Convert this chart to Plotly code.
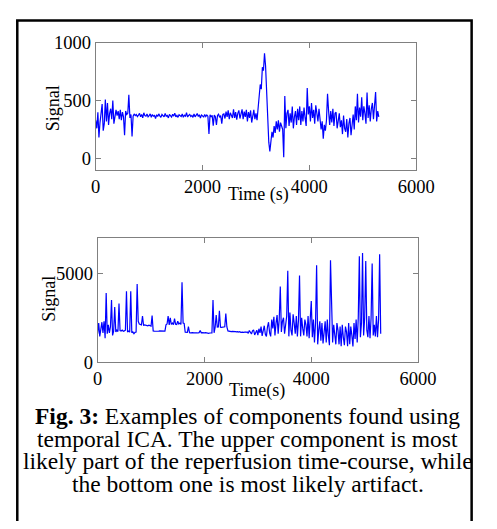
import plotly.graph_objects as go

# sampling step of both traces (s)
time_step = 20

# upper component, one value per time step
upper_signal = [
    330, 260, 400, 180, 310, 370, 470, 240, 300, 510,
    320, 480, 290, 390, 430, 340, 500, 300, 380, 420,
    370, 410, 340, 420, 330, 400, 360, 200, 410, 380,
    390, 550, 350, 380, 190, 365, 385, 370, 380, 362,
    375, 390, 360, 380, 350, 395, 370, 365, 385, 360,
    370, 385, 355, 380, 365, 372, 345, 378, 362, 385,
    368, 355, 380, 372, 360, 390, 364, 372, 350, 380,
    370, 358, 382, 366, 392, 360, 372, 355, 378, 368,
    362, 385, 356, 374, 365, 395, 358, 372, 380, 362,
    372, 355, 384, 360, 370, 388, 362, 378, 350, 375,
    368, 356, 380, 362, 376, 365, 210, 378, 358, 372,
    283, 375, 360, 290, 372, 382, 355, 370, 300, 380,
    385, 345, 405, 360, 415, 340, 395, 365, 350, 425,
    350, 400, 335, 390, 415, 345, 380, 425, 340, 405,
    360, 420, 320, 400, 350, 415, 310, 390, 420, 340,
    390, 330, 430, 470, 640, 600, 790, 760, 910, 800,
    560, 320, 140, 60, 170, 230, 180, 280, 220, 320,
    250, 330, 230, 310, 280, 250, 10, 540, 260, 390,
    420, 280, 390, 310, 450, 260, 360, 410, 290, 430,
    330, 450, 290, 410, 320, 440, 350, 280, 610, 380,
    450, 320, 480, 350, 420, 300, 460, 360, 320, 430,
    360, 250, 320, 170, 290, 240, 330, 560, 410, 290,
    410, 310, 430, 280, 390, 400, 260, 360, 390, 270,
    330, 210, 370, 260, 230, 340, 180, 300, 350, 200,
    290, 380, 250, 450, 330, 560, 310, 440, 360, 530,
    330, 450, 390, 300, 570, 350, 460, 320, 430, 480,
    340, 440, 575, 320, 410, 360,
]

# lower component (artifact)
lower_signal = [
    1600, 2200, 1450, 1900, 2250, 1650, 2300, 1350, 3900, 1600,
    2100, 1650, 2000, 3500, 1500, 1750, 3100, 1700, 1800, 1720,
    3300, 1780, 1750, 1800, 1740, 1760, 1800, 4000, 1700, 1750,
    1690, 4000, 1650, 1700, 1600, 1680, 1690, 4400, 2300, 2150,
    2120, 2100, 2600, 2080, 2100, 2070, 2060, 2050, 2080, 2030,
    2030, 2620, 1760, 1750, 1740, 1760, 1750, 1740, 1760, 1750,
    1750, 1740, 1730, 1750, 2100, 2150, 2600, 2100, 2500, 2120,
    2200, 2110, 2450, 2130, 2120, 2300, 2150, 2200, 2120, 4500,
    2200, 2180, 1680, 1660, 1670, 2000, 1660, 1650, 1670, 1660,
    1650, 1660, 1670, 1650, 1640, 1660, 1780, 1650, 1660, 1640,
    1650, 1660, 1640, 1650, 1620, 1640, 1630, 1650, 3500, 1650,
    1960, 2650, 1970, 1980, 2900, 1970, 1960, 1980, 1970, 1990,
    2740, 1980, 1760, 1740, 1750, 1720, 1730, 1740, 1710, 1720,
    1700, 1720, 1690, 1710, 1680, 1700, 1690, 1670, 1700, 1680,
    1700, 1620, 1780, 1680, 1580, 1760, 1820, 1530, 1720, 1800,
    1520, 1880, 1650, 2000, 1480, 1820, 2050, 1560, 1450, 1980,
    2250, 1650, 1450, 2400, 1900, 2550, 1500, 2200, 2650, 1600,
    2400, 4260, 1700, 2300, 2500, 1600, 2050, 2600, 5160, 1450,
    2800, 1800, 1500, 2700, 2200, 1600, 2600, 1450, 2350, 4890,
    1450, 2500, 1900, 1500, 2400, 2100, 1450, 2600, 1350, 2350,
    3450, 1400, 2400, 1100, 2200, 5470, 1000, 1800, 2300, 1200,
    2200, 1050, 1700, 2300, 1100, 2400, 1500, 950, 5740, 2200,
    1100, 2100, 1600, 1000, 2200, 1800, 1000, 2000, 900, 2100,
    1400, 950, 2000, 1700, 900, 2200, 1000, 2000, 1500, 880,
    2200, 1300, 2400, 1100, 2500, 5970, 1400, 2200, 6150, 1500,
    2500, 5700, 1800, 1400, 2600, 1350, 2500, 5560, 1500, 2100,
    1450, 2600, 1400, 2400, 6090, 1600,
]

x_ticks = [0, 2000, 4000, 6000]
upper_y_ticks = [0, 500, 1000]
lower_y_ticks = [0, 5000]

caption_lines = [
    "<b>Fig. 3:</b> Examples of components found using",
    "temporal ICA. The upper component is most",
    "likely part of the reperfusion time-course, while",
    "the bottom one is most likely artifact.",
]

# the page body keeps its default 8px margin, so the figure is sized to
# fill the 497x529 window exactly (489 + 8 wide, 8 + 513 + 8 high)
PAGE_MARGIN = 8
W, H = 489, 513
SERIF = "Liberation Serif"

t_upper = [i * time_step for i in range(len(upper_signal))]
t_lower = [i * time_step for i in range(len(lower_signal))]

fig = go.Figure()
fig.add_trace(go.Scatter(x=t_upper, y=upper_signal, mode="lines",
                         line=dict(color="#0000ff", width=1.2),
                         xaxis="x", yaxis="y", showlegend=False))
fig.add_trace(go.Scatter(x=t_lower, y=lower_signal, mode="lines",
                         line=dict(color="#0000ff", width=1.2),
                         xaxis="x2", yaxis="y2", showlegend=False))


# page pixel -> paper fraction
def px(x):
    return (x - PAGE_MARGIN) / W


def py(y):
    return 1 - (y - PAGE_MARGIN) / H


axis_style = dict(
    showline=True, linecolor="#808080", linewidth=1, mirror="ticks",
    ticks="inside", ticklen=5, tickcolor="#808080", tickwidth=1,
    showgrid=False, zeroline=False,
    tickfont=dict(family=SERIF, size=18.5, color="black"),
)

fig.update_layout(
    width=W, height=H, autosize=False,
    margin=dict(l=0, r=0, t=0, b=0),
    paper_bgcolor="white", plot_bgcolor="white",
    xaxis=dict(axis_style, domain=[px(95), px(432)], range=[0, 6000],
               tickvals=x_ticks, anchor="y"),
    yaxis=dict(axis_style, domain=[py(166), py(34)], range=[-100, 1000],
               tickvals=upper_y_ticks, anchor="x"),
    xaxis2=dict(axis_style, domain=[px(97), px(434)], range=[0, 6000],
                tickvals=x_ticks, anchor="y2"),
    yaxis2=dict(axis_style, domain=[py(366), py(237)], range=[0, 7000],
                tickvals=lower_y_ticks, anchor="x2"),
)

# axis titles placed where the figure has them
titles = [
    ("Signal", 50, 102, -90),
    ("Time (s)", 266, 192, 0),
    ("Signal", 45, 300, -90),
    ("Time(s)", 265, 396, 0),
]
for text, x, y, ang in titles:
    fig.add_annotation(text=text, x=px(x), y=py(y), xref="paper", yref="paper",
                       showarrow=False, textangle=ang,
                       font=dict(family=SERIF, size=18, color="black"),
                       xanchor="center", yanchor="middle")

# caption
for i, line in enumerate(caption_lines):
    fig.add_annotation(text=line, x=px(255), y=py(422.5 + i * 23.3),
                       xref="paper", yref="paper", showarrow=False,
                       font=dict(family=SERIF, size=23.5, color="black"),
                       xanchor="center", yanchor="middle")

# frame around the figure
fig.add_shape(type="rect", xref="paper", yref="paper",
              x0=px(12.5), x1=px(490.3), y0=-0.1, y1=py(10.5),
              line=dict(color="black", width=2.5))

fig.write_html("out.html", config={"responsive": False, "displayModeBar": False})
